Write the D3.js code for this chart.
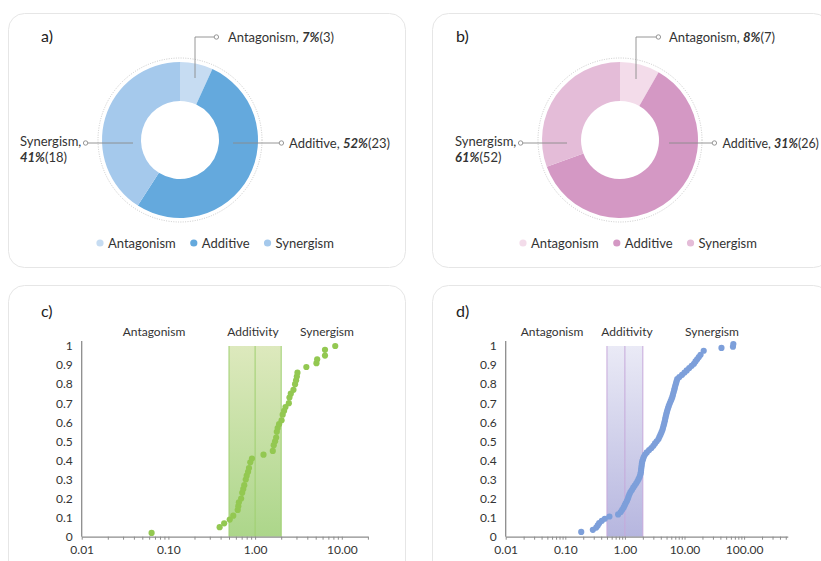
<!DOCTYPE html>
<html lang="en">
<head>
<meta charset="UTF-8">
<title>Drug interaction types</title>
<script src="https://cdn.jsdelivr.net/npm/d3@7/dist/d3.min.js"></script>
<style>
  body { margin: 0; background: #fff; }
  svg { display: block; font-family: "Lato", "Noto Sans", sans-serif; }
</style>
</head>
<body>
<svg id="chart" width="821" height="561"></svg>
<script>
// ---- data ----
const categories = ["Antagonism", "Additive", "Synergism"];

// panel a) counts per type
const countsA = [3, 23, 18];
const pctA = ["7%", "52%", "41%"];
// panel b) slice sizes as drawn (dark slice is the big one), label text as printed
const countsB = [7, 52, 26];
const pctB = ["8%", "31%", "61%"];
const labelCountsB = [7, 26, 52];

const colorsA = ["#c6dcf2", "#64a9dd", "#a5c9ec"];
const colorsB = ["#f3dcea", "#d498c4", "#e4bcd8"];

const yTicks = [0, 0.1, 0.2, 0.3, 0.4, 0.5, 0.6, 0.7, 0.8, 0.9, 1];

// panel c) combination index (x) vs cumulative fraction (y)
const ratioC = [0.064, 0.39, 0.44, 0.51, 0.56, 0.63, 0.64, 0.65, 0.69, 0.71, 0.73,
  0.75, 0.78, 0.80, 0.83, 0.85, 0.88, 0.92, 1.25, 1.60, 1.64, 1.70, 1.75, 1.78,
  1.82, 1.89, 2.02, 2.08, 2.16, 2.24, 2.45, 2.49, 2.58, 2.77, 2.89, 2.97, 3.03,
  3.08, 3.9, 5.1, 5.2, 6.4, 6.4, 8.4];
const cumC = [0.02, 0.05, 0.07, 0.09, 0.11, 0.14, 0.16, 0.18, 0.20, 0.23, 0.25,
  0.27, 0.30, 0.32, 0.34, 0.36, 0.39, 0.41, 0.43, 0.45, 0.48, 0.50, 0.52, 0.55,
  0.57, 0.59, 0.61, 0.64, 0.66, 0.68, 0.70, 0.73, 0.75, 0.77, 0.80, 0.82, 0.84,
  0.86, 0.89, 0.91, 0.93, 0.95, 0.98, 1.00];

// panel d)
const ratioD = [0.185, 0.29, 0.33, 0.35, 0.37, 0.41, 0.46, 0.55, 0.77, 0.85,
  0.90, 0.95, 0.99, 1.03, 1.08, 1.12, 1.15, 1.19, 1.24, 1.31, 1.38, 1.46, 1.55,
  1.63, 1.70, 1.77, 1.82, 1.85, 1.87, 1.89, 1.91, 1.93, 1.96, 2.02, 2.08, 2.18,
  2.33, 2.55, 2.78, 3.00, 3.20, 3.42, 3.66, 3.80, 3.95, 4.10, 4.24, 4.35, 4.46,
  4.56, 4.66, 4.74, 4.83, 4.93, 5.04, 5.15, 5.30, 5.45, 5.65, 5.85, 6.05, 6.25,
  6.40, 6.55, 6.70, 6.85, 7.00, 7.20, 7.35, 7.55, 8.2, 9.1, 10.0, 10.9, 12.0,
  13.2, 14.4, 15.3, 16.3, 17.4, 18.6, 21.0, 41.7, 65, 66];
const cumD = [0.025, 0.036, 0.048, 0.059, 0.071, 0.083, 0.094, 0.106, 0.117,
  0.129, 0.141, 0.152, 0.164, 0.175, 0.187, 0.199, 0.210, 0.222, 0.234, 0.245,
  0.257, 0.268, 0.280, 0.292, 0.303, 0.315, 0.327, 0.338, 0.350, 0.361, 0.373,
  0.385, 0.396, 0.408, 0.419, 0.431, 0.442, 0.454, 0.465, 0.477, 0.489, 0.500,
  0.512, 0.524, 0.535, 0.547, 0.558, 0.570, 0.582, 0.593, 0.605, 0.617, 0.628,
  0.640, 0.651, 0.663, 0.675, 0.686, 0.698, 0.710, 0.721, 0.733, 0.744, 0.756,
  0.768, 0.779, 0.791, 0.803, 0.814, 0.826, 0.837, 0.849, 0.861, 0.872, 0.884,
  0.896, 0.907, 0.919, 0.930, 0.942, 0.954, 0.975, 0.990, 0.996, 1.010];

const zoneLabels = ["Antagonism", "Additivity", "Synergism"];

const svg = d3.select("#chart");
const W = 821;
const textColor = "#333";

// panel frames
[[8.5, 13.5, 254], [432.5, 13.5, 254], [8.5, 285.5, 320], [432.5, 285.5, 320]].forEach(p => {
  svg.append("rect")
    .attr("x", p[0]).attr("y", p[1])
    .attr("width", 397).attr("height", p[2])
    .attr("rx", 16)
    .attr("fill", "#fff")
    .attr("stroke", "#e6e6e6");
});

// panel letters
[["a)", 41, 42], ["b)", 456, 42], ["c)", 41, 317], ["d)", 456, 317]].forEach(t => {
  svg.append("text").attr("x", t[1]).attr("y", t[2])
    .attr("font-size", "16px").attr("fill", "#222").text(t[0]);
});

// ---- donut charts ----
function drawDonut(cx, cy, values, colors, pcts, counts, lay) {
  const g = svg.append("g").attr("transform", `translate(${cx},${cy})`);
  const arcs = d3.pie().sort(null).value(d => d)(values);
  const arc = d3.arc().innerRadius(39).outerRadius(78);

  g.append("circle")
    .attr("r", 82)
    .attr("fill", "none")
    .attr("stroke", "#bdbdbd")
    .attr("stroke-width", 0.8)
    .attr("stroke-dasharray", "1,1.4");

  g.selectAll("path.slice")
    .data(arcs)
    .enter()
    .append("path")
    .attr("class", "slice")
    .attr("d", arc)
    .attr("fill", (d, i) => colors[i]);

  // leader lines
  const line = d3.line();
  lay.leaders.forEach(pts => {
    g.append("path")
      .attr("d", line(pts))
      .attr("fill", "none")
      .attr("stroke", "#8a8a8a")
      .attr("stroke-width", 0.9);
    const end = pts[pts.length - 1];
    g.append("circle")
      .attr("cx", end[0] + (end[0] > pts[0][0] ? 2.4 : -2.4))
      .attr("cy", end[1])
      .attr("r", 2.2)
      .attr("fill", "#fff")
      .attr("stroke", "#8a8a8a")
      .attr("stroke-width", 0.9);
  });

  // labels (the Synergism one wraps onto two lines)
  lay.text.forEach((pos, i) => {
    const t = g.append("text").attr("x", pos[0]).attr("y", pos[1])
      .attr("font-size", "13px").attr("fill", textColor);
    const wrap = i === 2;
    t.append("tspan").text(categories[i] + (wrap ? "," : ", "));
    const p = t.append("tspan")
      .attr("font-weight", "bold").attr("font-style", "italic").text(pcts[i]);
    if (wrap) p.attr("x", pos[0]).attr("dy", 15.5);
    t.append("tspan").text(`(${counts[i]})`);
    // shrink a label a little if it would run past the right edge
    const room = W - 2 - (cx + pos[0]);
    const len = t.node().getComputedTextLength();
    if (!wrap && len > room) t.attr("font-size", (13 * room / len).toFixed(2) + "px");
  });

  // legend
  let lx = lay.legendX;
  categories.forEach((c, i) => {
    svg.append("circle")
      .attr("cx", lx).attr("cy", 243).attr("r", 3.6)
      .attr("fill", colors[i]);
    const t = svg.append("text")
      .attr("x", lx + 8).attr("y", 247.5)
      .attr("font-size", "13px").attr("fill", textColor)
      .text(c);
    lx += 8 + t.node().getComputedTextLength() + 18;
  });
}

drawDonut(180, 140, countsA, colorsA, pctA, countsA, {
  leaders: [
    [[15, -62], [15, -103], [34, -103]],
    [[53, 3], [99, 3]],
    [[-47, 3], [-92, 3]]
  ],
  text: [[48, -98], [109, 8], [-160, 6]],
  legendX: 100
});

drawDonut(620, 140, countsB, colorsB, pctB, labelCountsB, {
  leaders: [
    [[16, -61], [16, -103], [36, -103]],
    [[49, 3], [92, 3]],
    [[-53, 3], [-97, 3]]
  ],
  text: [[49, -98], [102.5, 8], [-165, 6]],
  legendX: 523
});

// ---- cumulative distribution panels ----
function drawCdf(opt) {
  const x = d3.scaleLog().domain([0.01, opt.xMax]).range([opt.x0, opt.x1]);
  const y = d3.scaleLinear().domain([0, 1]).range([536.7, 346]);
  const g = svg.append("g");

  const defs = svg.append("defs");
  const grad = defs.append("linearGradient")
    .attr("id", opt.id).attr("x1", 0).attr("y1", 0).attr("x2", 0).attr("y2", 1);
  grad.append("stop").attr("offset", "0%").attr("stop-color", opt.bandTop);
  grad.append("stop").attr("offset", "100%").attr("stop-color", opt.bandBottom);

  g.append("rect")
    .attr("x", x(0.5)).attr("y", y(1))
    .attr("width", x(2) - x(0.5)).attr("height", y(0) - y(1))
    .attr("fill", `url(#${opt.id})`);
  [0.5, 1, 2].forEach(v => {
    g.append("line")
      .attr("x1", x(v)).attr("x2", x(v))
      .attr("y1", y(1)).attr("y2", y(0))
      .attr("stroke", opt.bandLine).attr("stroke-width", 1);
  });

  // y axis
  g.append("line")
    .attr("x1", opt.x0).attr("x2", opt.x0)
    .attr("y1", y(0)).attr("y2", y(1) - 5)
    .attr("stroke", "#8c8c8c").attr("stroke-width", 1.3);
  const yAxis = d3.axisLeft(y)
    .tickValues(yTicks)
    .tickSize(0)
    .tickPadding(9)
    .tickFormat(d => (d === 0 || d === 1) ? String(d) : d3.format(".1f")(d));
  const ya = g.append("g").attr("transform", `translate(${opt.x0},0)`).call(yAxis);
  ya.select(".domain").remove();
  ya.selectAll("text").attr("font-size", "12px").attr("fill", textColor)
    .attr("font-family", "Lato, 'Noto Sans', sans-serif");

  // x axis (log, minor ticks)
  const isDecade = d => Math.abs(Math.log10(d) - Math.round(Math.log10(d))) < 1e-6;
  const xAxis = d3.axisBottom(x)
    .tickValues(x.ticks())
    .tickSize(3)
    .tickSizeOuter(0)
    .tickPadding(6)
    .tickFormat(d => isDecade(d) ? d3.format(".2f")(d) : "");
  const xa = g.append("g").attr("transform", `translate(0,${y(0)})`).call(xAxis);
  xa.select(".domain").attr("stroke", "#8c8c8c").attr("stroke-width", 1.3);
  xa.selectAll(".tick line").attr("stroke", "#8c8c8c");
  xa.selectAll("text").attr("font-size", "12px").attr("fill", textColor)
    .attr("font-family", "Lato, 'Noto Sans', sans-serif");

  // zone headers
  zoneLabels.forEach((z, i) => {
    g.append("text")
      .attr("x", opt.zoneX[i]).attr("y", 336)
      .attr("text-anchor", "middle")
      .attr("font-size", "12px").attr("fill", textColor)
      .text(z);
  });

  // points
  g.selectAll("circle.pt")
    .data(opt.xs.map((v, i) => [v, opt.ys[i]]))
    .enter()
    .append("circle")
    .attr("class", "pt")
    .attr("cx", d => x(d[0]))
    .attr("cy", d => y(d[1]))
    .attr("r", 3.1)
    .attr("fill", opt.dot);
}

drawCdf({
  id: "bandC", xs: ratioC, ys: cumC, xMax: 20,
  x0: 81.7, x1: 81.7 + Math.log10(20 / 0.01) * 86.7,
  bandTop: "#dde9bd", bandBottom: "#acd68a", bandLine: "#9fcf70",
  dot: "#93c851", zoneX: [154, 253, 327]
});

drawCdf({
  id: "bandD", xs: ratioD, ys: cumD, xMax: 540,
  x0: 505.7, x1: 505.7 + Math.log10(540 / 0.01) * 59.6,
  bandTop: "#eaeaf6", bandBottom: "#b6b6df", bandLine: "#c6a8da",
  dot: "#7d9fda", zoneX: [552, 627, 712]
});
</script>
</body>
</html>
